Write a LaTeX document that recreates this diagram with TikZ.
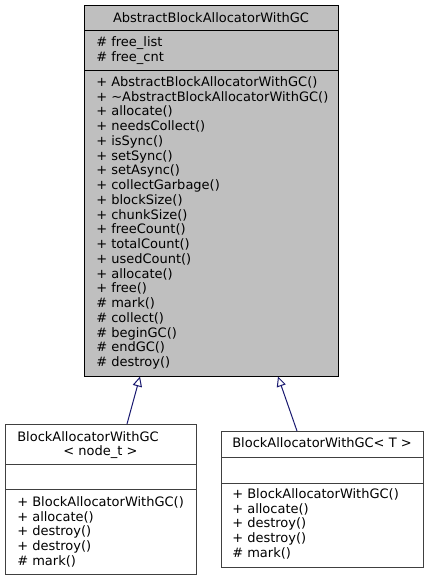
\documentclass[tikz,border=0pt]{standalone}
\usepackage{fontspec}
\setmainfont{DejaVu Sans}
\usetikzlibrary{arrows.meta,fit}
\definecolor{edgeblue}{HTML}{191970}
\definecolor{boxgray}{HTML}{BFBFBF}
\definecolor{framegray}{HTML}{404040}
\begin{document}
\begin{tikzpicture}[x=0.75pt,y=-0.75pt,
  txt/.style={anchor=base west, inner sep=0pt, font=\fontsize{9.75}{11}\selectfont},
  ctxt/.style={anchor=base, inner sep=0pt, font=\fontsize{9.75}{11}\selectfont},
  mainbox/.style={draw=black, fill=boxgray, line width=0.75pt, inner sep=0pt},
  subbox/.style={draw=framegray, fill=white, line width=0.75pt, inner sep=0pt},
  sepline/.style={line width=0.75pt},
  inherit/.style={draw=edgeblue, line width=0.75pt, -{Triangle[open, length=7.5pt, width=7pt, fill=white]}}
]
\useasboundingbox (0,0) rectangle (429,580);
% parent class
\node[mainbox, fit={(84,6)(338,376)}] (parent) {};
\draw[sepline] (84,31) -- (338,31);
\draw[sepline] (84,71) -- (338,71);
\node[ctxt] (ptitle) at (211,22.5) {AbstractBlockAllocatorWithGC};
\node[txt] (pa1) at (96,46.5) {\# free\_list};
\node[txt] (pa2) at (96,61.5) {\# free\_cnt};
\foreach \t [count=\i from 0] in {%
  + AbstractBlockAllocatorWithGC(),
  + \textasciitilde AbstractBlockAllocatorWithGC(),
  + allocate(),
  + needsCollect(),
  + isSync(),
  + setSync(),
  + setAsync(),
  + collectGarbage(),
  + blockSize(),
  + chunkSize(),
  + freeCount(),
  + totalCount(),
  + usedCount(),
  + allocate(),
  + free(),
  \# mark(),
  \# collect(),
  \# beginGC(),
  \# endGC(),
  \# destroy()}
  \node[txt] (pm\i) at (96,{86.5+14.74*\i}) {\t};
% left child
\node[subbox, fit={(5,424)(196,574)}] (childA) {};
\draw[sepline, framegray] (5,464) -- (196,464);
\draw[sepline, framegray] (5,489) -- (196,489);
\node[txt] (at1) at (17,441) {BlockAllocatorWithGC};
\node[ctxt] (at2) at (100.5,455) {< node\_t >};
\foreach \t [count=\i from 0] in {%
  + BlockAllocatorWithGC(),
  + allocate(),
  + destroy(),
  + destroy(),
  \# mark()}
  \node[txt] (am\i) at (17,{506.5+14.74*\i}) {\t};
% right child
\node[subbox, fit={(221,431)(423,567)}] (childB) {};
\draw[sepline, framegray] (221,457) -- (423,457);
\draw[sepline, framegray] (221,483) -- (423,483);
\node[ctxt] (bt1) at (322,447.5) {BlockAllocatorWithGC< T >};
\foreach \t [count=\i from 0] in {%
  + BlockAllocatorWithGC(),
  + allocate(),
  + destroy(),
  + destroy(),
  \# mark()}
  \node[txt] (bm\i) at (232,{498.5+14.74*\i}) {\t};
% inheritance connectors
\coordinate (aStart) at (127,424);
\coordinate (aEnd) at (140,376.5);
\coordinate (bStart) at (297,431);
\coordinate (bEnd) at (278,376.5);
\draw[inherit] (aStart) -- (aEnd);
\draw[inherit] (bStart) -- (bEnd);
\end{tikzpicture}
\end{document}
